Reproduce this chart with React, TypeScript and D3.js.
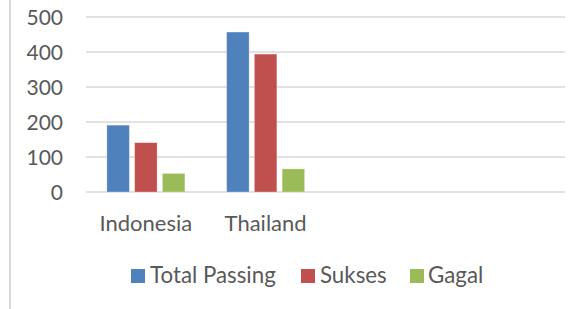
import React from "react";
import * as d3 from "d3";

const categories = ["Indonesia", "Thailand", "", ""];
const seriesNames = ["Total Passing", "Sukses", "Gagal"];
const totalPassing = [191, 457, null, null];
const sukses = [141, 394, null, null];
const gagal = [53, 66, null, null];
const yTicks = [0, 100, 200, 300, 400, 500];
const colors = ["#4F81BD", "#C0504D", "#9BBB59"];

const W = 583;
const H = 309;
const FONT = "Lato, 'Open Sans', sans-serif";
const TEXT = "#595959";

export default function App() {
  const series = [totalPassing, sukses, gagal];
  const x = d3
    .scaleBand<number>()
    .domain(categories.map((_, i) => i))
    .range([86, 565])
    .paddingInner(0)
    .paddingOuter(0);
  const y = d3.scaleLinear().domain([0, 500]).range([192, 17]);
  const inner = d3
    .scaleBand<number>()
    .domain(seriesNames.map((_, i) => i))
    .range([0, 78])
    .paddingInner(0.19)
    .paddingOuter(0);
  const clusterOffset = (x.bandwidth() - 78) / 2;

  const legendItems = [
    { sq: 131, tx: 150 },
    { sq: 301, tx: 320 },
    { sq: 410, tx: 428 },
  ];

  return (
    <svg
      width={W}
      height={H}
      style={{ position: "absolute", left: 0, top: 0, background: "#fff" }}
    >
      <line x1={10} x2={10} y1={0} y2={H} stroke="#d9d9d9" strokeWidth={2} />
      {yTicks.map((t) => (
        <g key={t}>
          <line
            x1={86}
            x2={565}
            y1={y(t)}
            y2={y(t)}
            stroke="#d9d9d9"
            strokeWidth={1.5}
          />
          <text
            x={63}
            y={y(t)}
            dy="0.36em"
            textAnchor="end"
            fontFamily={FONT}
            fontSize={21}
            fill={TEXT}
          >
            {t}
          </text>
        </g>
      ))}
      {series.map((vals, s) =>
        vals.map((v, i) =>
          v == null ? null : (
            <rect
              key={`${s}-${i}`}
              x={(x(i) as number) + clusterOffset + (inner(s) as number)}
              y={y(v)}
              width={inner.bandwidth()}
              height={y(0) - y(v)}
              fill={colors[s]}
              stroke="#ffffff"
              strokeOpacity={0.35}
              strokeWidth={0.8}
            />
          )
        )
      )}
      {categories.map((c, i) =>
        c ? (
          <text
            key={i}
            x={(x(i) as number) + x.bandwidth() / 2}
            y={231}
            textAnchor="middle"
            fontFamily={FONT}
            fontSize={22}
            fill={TEXT}
          >
            {c}
          </text>
        ) : null
      )}
      {seriesNames.map((n, s) => (
        <g key={n}>
          <rect
            x={legendItems[s].sq}
            y={269}
            width={14}
            height={14}
            fill={colors[s]}
          />
          <text
            x={legendItems[s].tx}
            y={282.5}
            fontFamily={FONT}
            fontSize={22.3}
            fill={TEXT}
          >
            {n}
          </text>
        </g>
      ))}
    </svg>
  );
}
